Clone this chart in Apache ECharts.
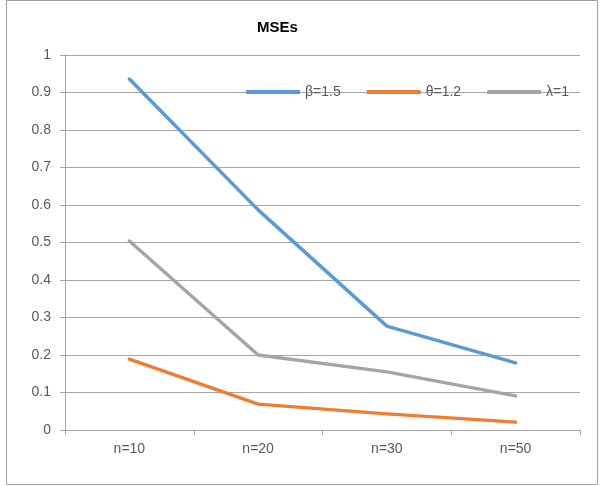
<!DOCTYPE html>
<html>
<head>
<meta charset="utf-8">
<script src="https://cdn.jsdelivr.net/npm/echarts@6/dist/echarts.min.js"></script>
<style>html,body{margin:0;padding:0;background:#fff}#c{width:603px;height:486px}</style>
</head>
<body>
<div id="c"></div>
<script>
var categories = ['n=10', 'n=20', 'n=30', 'n=50'];
var betaValues = [0.936, 0.587, 0.277, 0.179];
var thetaValues = [0.189, 0.069, 0.043, 0.021];
var lambdaValues = [0.504, 0.200, 0.155, 0.091];
var seriesNames = ['β=1.5', 'θ=1.2', 'λ=1'];
var yTicks = { min: 0, max: 1, interval: 0.1 };

var font = 'Liberation Sans';
var chart = echarts.init(document.getElementById('c'), null, { renderer: 'canvas' });
function mk(name, data, color) {
  return {
    name: name, type: 'line', data: data, symbol: 'none',
    lineStyle: { color: color, width: 3.5, cap: 'round', join: 'round' },
    itemStyle: { color: color }, animation: false
  };
}
chart.setOption({
  animation: false,
  backgroundColor: '#fff',
  title: {
    text: 'MSEs', left: 252, top: 15,
    textStyle: { fontFamily: font, fontSize: 15, fontWeight: 'bold', color: '#000' }
  },
  legend: {
    data: seriesNames, left: 241, top: 80, icon: 'rect',
    itemWidth: 54, itemHeight: 4, itemGap: 26,
    textStyle: { fontFamily: font, fontSize: 14, color: '#595959' }
  },
  grid: { left: 65, right: 23, top: 55, bottom: 56, containLabel: false },
  xAxis: {
    type: 'category', data: categories, boundaryGap: true,
    axisLine: { lineStyle: { color: '#a6a6a6', width: 1 } },
    axisTick: { show: true, length: 5, lineStyle: { color: '#a6a6a6' } },
    axisLabel: { fontFamily: font, fontSize: 14, color: '#595959', margin: 12 }
  },
  yAxis: {
    type: 'value', min: yTicks.min, max: yTicks.max, interval: yTicks.interval,
    axisLine: { show: true, lineStyle: { color: '#a6a6a6', width: 1 } },
    axisTick: { show: true, length: 5, lineStyle: { color: '#a6a6a6' } },
    splitLine: { show: true, lineStyle: { color: '#a6a6a6', width: 1 } },
    axisLabel: { fontFamily: font, fontSize: 14, color: '#595959', margin: 14 }
  },
  series: [
    mk(seriesNames[0], betaValues, '#5B9BD5'),
    mk(seriesNames[1], thetaValues, '#ED7D31'),
    mk(seriesNames[2], lambdaValues, '#A5A5A5')
  ],
  graphic: [{
    type: 'rect', silent: true, z: -1,
    shape: { x: 6.5, y: 0.5, width: 591, height: 484 },
    style: { fill: 'none', stroke: '#a0a0a0', lineWidth: 1 }
  }]
});
</script>
</body>
</html>
